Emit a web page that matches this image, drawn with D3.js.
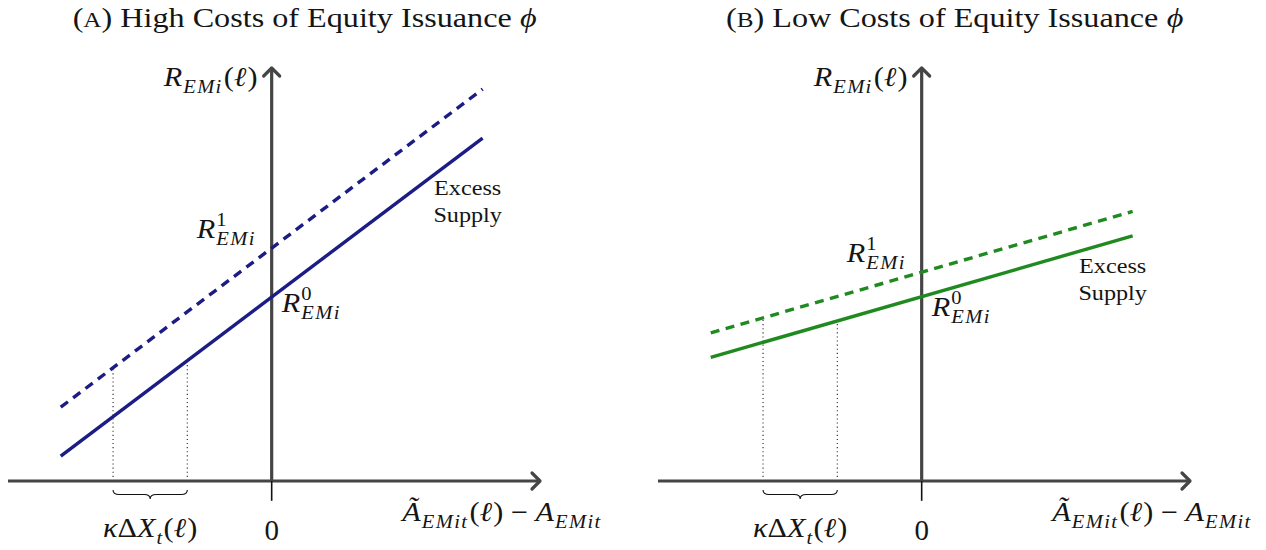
<!DOCTYPE html>
<html><head><meta charset="utf-8">
<script src="https://cdn.jsdelivr.net/npm/d3@7"></script>
<style>
body{margin:0;background:#fff}
svg{display:block}
text{font-family:"Liberation Serif","Times New Roman",serif;fill:#151515;white-space:pre}
</style>
</head><body>
<svg id="c" width="1266" height="550"></svg>
<script>
// ---------- data ----------
const panelLetters = ["A", "B"];
const titles = ["High Costs of Equity Issuance", "Low Costs of Equity Issuance"];
const lineX = [-5, 5];
const solidA = [0.59, 8.13];
const dashedA = [1.75, 9.29];
const solidB = [2.93, 5.81];
const dashedB = [3.51, 6.39];
const dottedX = [-3.76, -2.0];
const xAxisExtent = [-6.25, 6.36];
const yAxisExtent = [-0.47, 9.79];
const zeroTick = ["0"];
const seriesColors = ["#1c1c85", "#1f8a1f"];

const solids = [solidA, solidB];
const dashes = [dashedA, dashedB];

// ---------- layout ----------
const svg = d3.select("#c");
const panelShift = 650;
const layout = [
  {r0dy: 15, exDx: 196, exDy: [195, 222]},
  {r0dy: 19, exDx: 191, exDy: [273, 300]}
];
const AXIS = "#454545";
const SUB_LS = 1.2;

// helper: one <text> holding tspans for a math-like label
function math(g, x, y, tokens, opts) {
  const size = opts.size;
  const grp = g.append("g");
  const txt = grp.append("text").style("font-size", size + "px");
  let cx = 0, stackX = null, stackW = 0;
  tokens.forEach(tk => {
    const fs = size * (tk.s || 1);
    const px = stackX !== null ? stackX : cx;
    const el = txt.append("tspan")
      .attr("x", px).attr("y", tk.dy || 0)
      .style("font-size", fs + "px")
      .style("font-style", tk.it ? "italic" : "normal")
      .style("letter-spacing", (tk.ls || 0) + "px")
      .text(tk.t);
    const w = el.node().getComputedTextLength() + (tk.pad || 0);
    if (tk.stack) { stackX = cx; stackW = w; }
    else if (stackX !== null) { cx = stackX + Math.max(stackW, w); stackX = null; stackW = 0; }
    else cx += w;
  });
  const total = cx;
  let sx = opts.width ? opts.width / total : 1;
  if (opts.maxStretch) sx = Math.min(sx, opts.maxStretch);
  const W = total * sx;
  let x0 = x;
  if (opts.anchor === "end") x0 = x - W;
  else if (opts.anchor === "middle") x0 = x - W / 2;
  grp.attr("transform", `translate(${x0},${y}) scale(${sx},1)`);
  return grp;
}

const sub = (t) => ({t, it: true, s: 0.68, dy: 7, pad: 1, ls: SUB_LS});

panelLetters.forEach((letter, i) => {
  const xs = d3.scaleLinear().domain([-6.25, 6.36]).range([8 + panelShift * i, 540 + panelShift * i]);
  const ys = d3.scaleLinear().domain([0, 9.79]).range([481, 68]);
  const g = svg.append("g");
  const ox = xs(0);
  const col = seriesColors[i];
  const solid = lineX.map((x, k) => ({x, y: solids[i][k]}));
  const dashed = lineX.map((x, k) => ({x, y: dashes[i][k]}));
  const line = d3.line().x(d => xs(d.x)).y(d => ys(d.y));
  const interp = (pts, x) => pts[0].y + (pts[1].y - pts[0].y) * (x - pts[0].x) / (pts[1].x - pts[0].x);

  // dotted guides
  const dotTops = [interp(dashed, dottedX[0]), interp(solid, dottedX[1])];
  dottedX.forEach((dx, k) => {
    g.append("line")
      .attr("x1", xs(dx)).attr("x2", xs(dx))
      .attr("y1", ys(0)).attr("y2", ys(dotTops[k]))
      .attr("stroke", "#222").attr("stroke-width", 1.1)
      .attr("stroke-dasharray", "1.1,3");
  });

  // axes
  g.append("line").attr("x1", xs(xAxisExtent[0])).attr("x2", xs(xAxisExtent[1]) - 1.5)
    .attr("y1", ys(0)).attr("y2", ys(0)).attr("stroke", AXIS).attr("stroke-width", 3.2);
  g.append("line").attr("x1", ox).attr("x2", ox)
    .attr("y1", ys(0)).attr("y2", ys(yAxisExtent[1]) + 1.5).attr("stroke", AXIS).attr("stroke-width", 3.2);
  g.append("line").attr("x1", ox).attr("x2", ox)
    .attr("y1", ys(0)).attr("y2", ys(yAxisExtent[0])).attr("stroke", "#111").attr("stroke-width", 1.6);
  const tx = xs(xAxisExtent[1]), ty = ys(0);
  g.append("path").attr("d", `M${tx - 8},${ty - 8} L${tx},${ty} L${tx - 8},${ty + 8}`)
    .attr("fill", "none").attr("stroke", AXIS).attr("stroke-width", 3.2).attr("stroke-linecap", "round").attr("stroke-linejoin", "round");
  const vy = ys(yAxisExtent[1]);
  g.append("path").attr("d", `M${ox - 8},${vy + 8} L${ox},${vy} L${ox + 8},${vy + 8}`)
    .attr("fill", "none").attr("stroke", AXIS).attr("stroke-width", 3.2).attr("stroke-linecap", "round").attr("stroke-linejoin", "round");

  // series lines
  g.append("path").attr("d", line(dashed)).attr("fill", "none").attr("stroke", col)
    .attr("stroke-width", 3.4).attr("stroke-dasharray", "9,6.5");
  g.append("path").attr("d", line(solid)).attr("fill", "none").attr("stroke", col)
    .attr("stroke-width", 3.4);

  // brace
  const bx1 = xs(dottedX[0]), bx2 = xs(dottedX[1]), by = 490, bh = 9, q = 6, bm = (bx1 + bx2) / 2;
  g.append("path").attr("d",
    `M${bx1},${by} Q${bx1},${by + bh / 2} ${bx1 + q},${by + bh / 2} L${bm - q},${by + bh / 2} Q${bm},${by + bh / 2} ${bm},${by + bh} ` +
    `Q${bm},${by + bh / 2} ${bm + q},${by + bh / 2} L${bx2 - q},${by + bh / 2} Q${bx2},${by + bh / 2} ${bx2},${by}`)
    .attr("fill", "none").attr("stroke", "#111").attr("stroke-width", 1.1);

  // title
  math(g, ox + 33, 27, [
    {t: "("}, {t: letter, s: 0.78}, {t: ") " + titles[i] + " "}, {t: "ϕ", it: true}
  ], {size: 28, width: 480, maxStretch: 1.15, anchor: "middle"});

  // y label
  math(g, ox - 14, 86, [
    {t: "R", it: true, pad: 1}, sub("EMi"), {t: "("}, {t: "ℓ", it: true, pad: 1}, {t: ")"}
  ], {size: 27, width: 98, maxStretch: 1.12, anchor: "end"});

  // R^1 and R^0
  math(g, ox - 75, ys(dashes[i][0] + (dashes[i][1] - dashes[i][0]) / 2) - 10, [
    {t: "R", it: true, pad: 1}, {t: "1", s: 0.68, dy: -12, stack: true}, sub("EMi")
  ], {size: 27, width: 65, maxStretch: 1.12});
  math(g, ox + 10, ys(solids[i][0] + (solids[i][1] - solids[i][0]) / 2) + layout[i].r0dy, [
    {t: "R", it: true, pad: 1}, {t: "0", s: 0.68, dy: -12, stack: true}, sub("EMi")
  ], {size: 27, width: 65, maxStretch: 1.12});

  // Excess Supply
  math(g, ox + layout[i].exDx, layout[i].exDy[0], [{t: "Excess"}], {size: 22, width: 71, maxStretch: 1.1, anchor: "middle"});
  math(g, ox + layout[i].exDx, layout[i].exDy[1], [{t: "Supply"}], {size: 22, width: 74, maxStretch: 1.1, anchor: "middle"});

  // x label
  math(g, ox + 331, 521, [
    {t: "Ã", it: true, pad: 1}, sub("EMit"), {t: "("}, {t: "ℓ", it: true, pad: 1}, {t: ") − "},
    {t: "A", it: true, pad: 1}, sub("EMit")
  ], {size: 27, width: 215, maxStretch: 1.12, anchor: "end"});

  // zero tick label
  math(g, ox, 540, [{t: zeroTick[0]}], {size: 29, anchor: "middle"});

  // kappa label
  math(g, bm, 537, [
    {t: "κ", it: true}, {t: "Δ"}, {t: "X", it: true, pad: 1}, {t: "t", it: true, s: 0.68, dy: 7, pad: 1}, {t: "("}, {t: "ℓ", it: true, pad: 1}, {t: ")"}
  ], {size: 27, width: 100, maxStretch: 1.12, anchor: "middle"});
});
</script>
</body></html>
